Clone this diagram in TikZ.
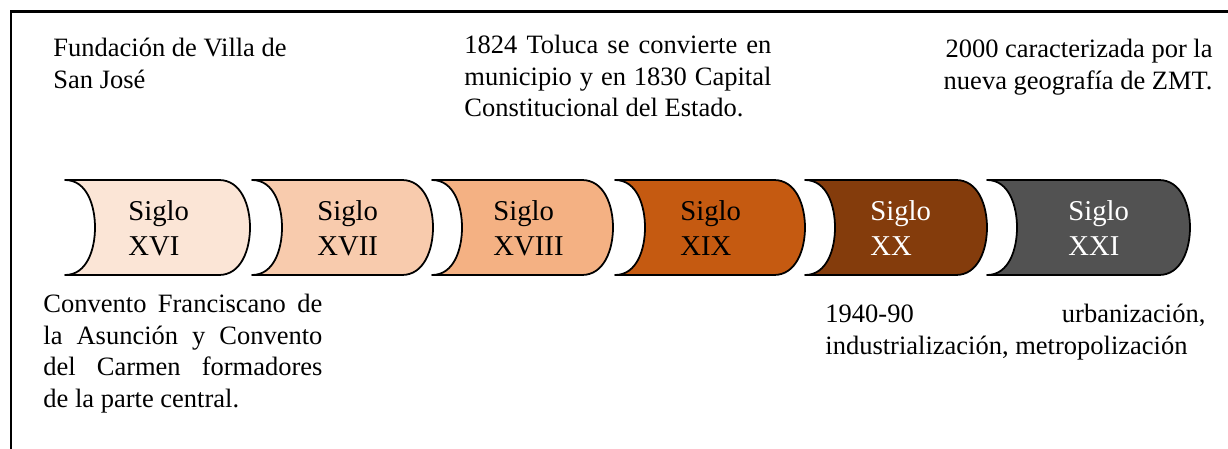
\documentclass[tikz,border=0pt]{standalone}
\usepackage{fontspec}
\setmainfont{Liberation Serif}
\usetikzlibrary{positioning}
\newdimen\pxunit
\pxunit=0.4528pt
\definecolor{sigloA}{HTML}{FBE5D6}
\definecolor{sigloB}{HTML}{F8CBAD}
\definecolor{sigloC}{HTML}{F4B183}
\definecolor{sigloD}{HTML}{C55A11}
\definecolor{sigloE}{HTML}{843C0C}
\definecolor{sigloF}{HTML}{525252}
\tikzstyle{segment} = [draw=black, line width=0.8pt, line join=round]
\tikzstyle{sigloText} = [anchor=north west, inner sep=0pt, align=left, font=\fontsize{13}{15.8}\selectfont]
\tikzstyle{nota} = [anchor=north west, inner sep=0pt, align=justify, font=\fontsize{12}{14.3}\selectfont]
\tikzstyle{frame} = [draw=black, line width=1.3pt]
% one piece of the time line: left corner, right end, fill
\newcommand{\tramo}[3]{%
  \path [segment, fill=#3] (#1,180) -- (#2-31,180) to[out=0,in=90] (#2,227.5)
    to[out=-90,in=0] (#2-31,275) -- (#1,275) to[out=0,in=-90] (#1+30,227.5)
    to[out=90,in=0] (#1,180) -- cycle;}

\begin{document}
\begin{tikzpicture}[x=\pxunit, y=-\pxunit]
  \useasboundingbox (0,0) rectangle (1228,449);
  \path [frame] (11,449) -- (11,11.5) -- (1228,11.5);

  \tramo{65}{250}{sigloA}
  \tramo{252}{433}{sigloB}
  \tramo{432}{613}{sigloC}
  \tramo{615}{805}{sigloD}
  \tramo{805}{987}{sigloE}
  \tramo{987}{1190}{sigloF}

  \node (s16) [sigloText] at (128,200) {Siglo\\XVI};
  \node (s17) [sigloText] at (317,200) {Siglo\\XVII};
  \node (s18) [sigloText] at (493,200) {Siglo\\XVIII};
  \node (s19) [sigloText] at (680,200) {Siglo\\XIX};
  \node (s20) [sigloText, text=white] at (870,200) {Siglo\\XX};
  \node (s21) [sigloText, text=white] at (1068,200) {Siglo\\XXI};

  \node (fundacion) [nota, align=left] at (53,38) {Fundación de Villa de\\San José};
  \node (toluca) [nota, text width=307\pxunit] at (464,35) {1824 Toluca se convierte en\linebreak municipio y en 1830 Capital\linebreak Constitucional del Estado.};
  \node (zmt) [nota, anchor=north east, align=right] at (1213,39) {2000 caracterizada por la\\nueva geografía de ZMT.};

  \node (conventos) [nota, text width=279\pxunit] at (43,294) {Convento Franciscano de\linebreak la Asunción y Convento\linebreak del Carmen formadores\linebreak de la parte central.};
  \node (urbanizacion) [nota, text width=380\pxunit] at (825,304) {1940-90 urbanización,\linebreak industrialización, metropolización};
\end{tikzpicture}
\end{document}
